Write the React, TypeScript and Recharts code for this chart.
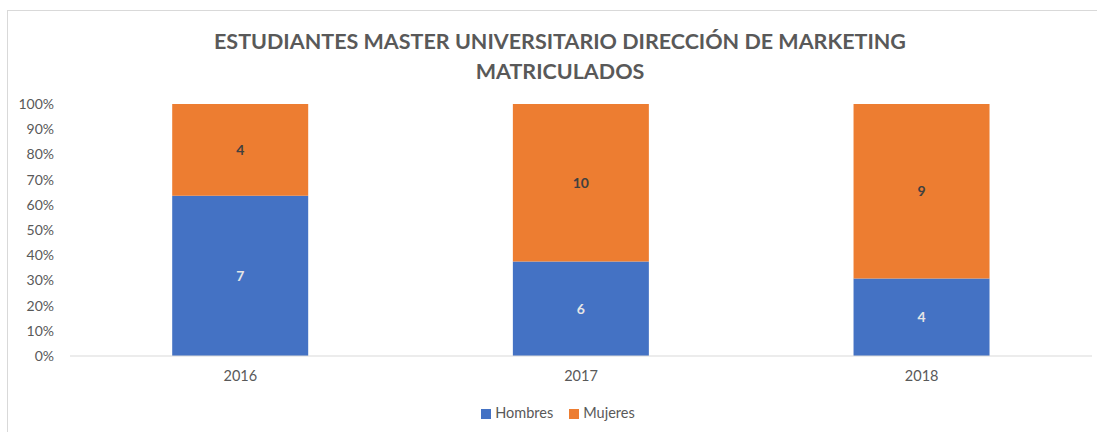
import { BarChart, Bar, XAxis, YAxis, Legend, LabelList } from "recharts";

const years = ["2016", "2017", "2018"];
const hombres = [7, 6, 4];
const mujeres = [4, 10, 9];
const yTicks = [0, 0.1, 0.2, 0.3, 0.4, 0.5, 0.6, 0.7, 0.8, 0.9, 1];

const FONT = "Lato, 'Open Sans', sans-serif";

const data = years.map((year, i) => ({ year, Hombres: hombres[i], Mujeres: mujeres[i] }));

const App = () => {
  return (
    <div style={{ position: "absolute", left: 0, top: 0, width: 1097, height: 432, background: "#fff", fontFamily: FONT }}>
      {/* chart frame, runs off the right and bottom edges */}
      <div
        style={{
          position: "absolute",
          left: 7,
          top: 10,
          width: 1100,
          height: 430,
          border: "1px solid #d9d9d9",
        }}
      />
      <div
        style={{
          position: "absolute",
          left: 0,
          top: 26,
          width: 1120,
          textAlign: "center",
          color: "#595959",
          fontWeight: 700,
          fontSize: 21.5,
          lineHeight: "30px",
        }}
      >
        ESTUDIANTES MASTER UNIVERSITARIO DIRECCIÓN DE MARKETING
        <br />
        MATRICULADOS
      </div>
      <div style={{ position: "absolute", left: 0, top: 0 }}>
        <BarChart
          width={1097}
          height={432}
          data={data}
          stackOffset="expand"
          margin={{ top: 104, right: 5, bottom: 11, left: 0 }}
          barCategoryGap="30%"
        >
          <XAxis
            dataKey="year"
            axisLine={{ stroke: "#d9d9d9" }}
            tickLine={false}
            tickMargin={9}
            height={48}
            tick={{ fill: "#595959", fontSize: 14.5, fontFamily: FONT }}
          />
          <YAxis
            ticks={yTicks}
            domain={[0, 1]}
            width={70}
            axisLine={false}
            tickLine={false}
            tickMargin={10}
            interval={0}
            tickFormatter={(v: number) => `${Math.round(v * 100)}%`}
            tick={{ fill: "#595959", fontSize: 14, fontFamily: FONT }}
          />
          <Legend
            verticalAlign="bottom"
            iconType="square"
            iconSize={10}
            wrapperStyle={{ fontSize: 14.5, fontFamily: FONT, color: "#595959", left: 20 }}
            formatter={(value: string) => <span style={{ color: "#595959", marginRight: 6 }}>{value}</span>}
          />
          <Bar dataKey="Hombres" stackId="a" fill="#4472c4" isAnimationActive={false}>
            <LabelList dataKey="Hombres" position="center" fill="#e6e6e6" fontSize={14} fontWeight={700} fontFamily={FONT} />
          </Bar>
          <Bar dataKey="Mujeres" stackId="a" fill="#ed7d31" isAnimationActive={false}>
            <LabelList dataKey="Mujeres" position="center" fill="#404040" fontSize={14} fontWeight={700} fontFamily={FONT} />
          </Bar>
        </BarChart>
      </div>
    </div>
  );
};

export default App;
